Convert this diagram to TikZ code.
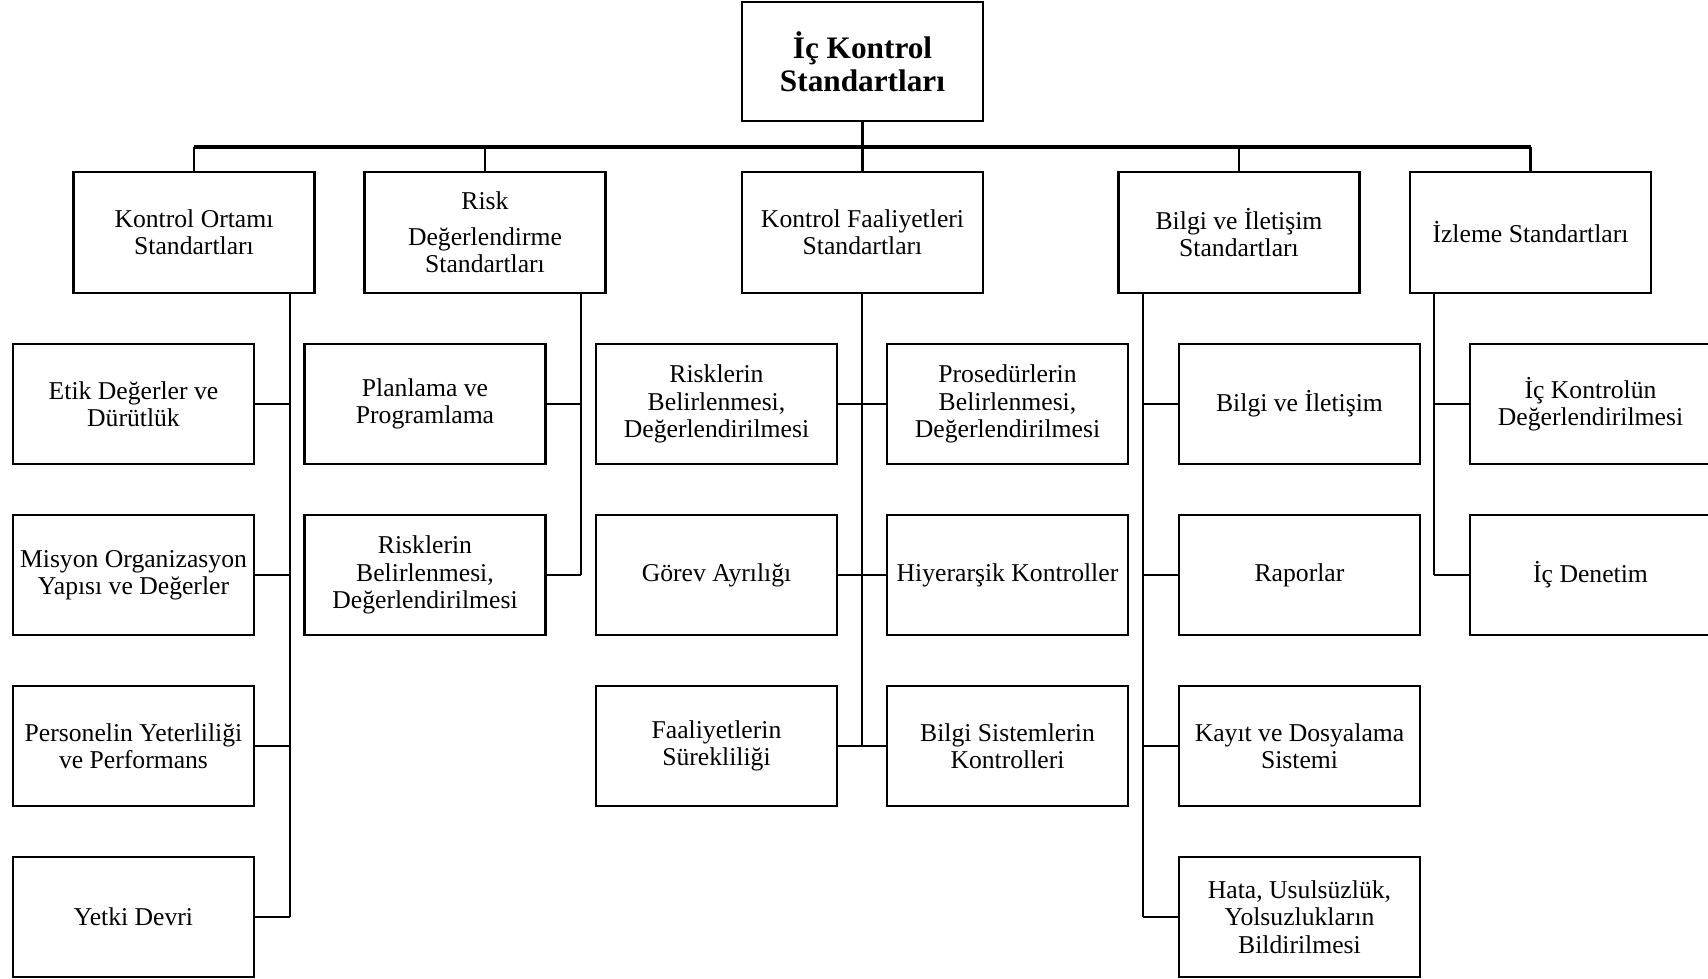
\documentclass[tikz,border=0pt]{standalone}
\usepackage{fontspec}
\setmainfont{Liberation Serif}
\usetikzlibrary{positioning}
\tikzset{
  box/.style={
    draw=black,
    line width=0.65pt,
    minimum width=2.41cm,
    minimum height=1.20cm,
    inner sep=1pt,
    align=center,
    font=\fontsize{7.3}{7.75}\selectfont
  },
  head/.style={
    box,
    minimum height=1.21cm
  },
  top/.style={
    box,
    minimum height=1.19cm,
    font=\bfseries\fontsize{8.9}{9.3}\selectfont
  },
  link/.style={
    draw=black,
    line width=0.65pt
  },
  bus/.style={
    draw=black,
    line width=0.9pt
  }
}

\begin{document}
\begin{tikzpicture}[x=1cm,y=1cm]
  \useasboundingbox (0,0) rectangle (17.08,9.79);

  % Root
  \node[top] (root) at (8.625,9.175) {İç Kontrol\\Standartları};

  % Standard groups
  \node[head] (ko) at (1.94,7.465) {Kontrol Ortamı\\Standartları};
  \node[head] (rd) at (4.85,7.465) {Risk\\[0.09cm]Değerlendirme\\Standartları};
  \node[head] (kf) at (8.625,7.465) {Kontrol Faaliyetleri\\Standartları};
  \node[head] (bi) at (12.39,7.465) {Bilgi ve İletişim\\Standartları};
  \node[head] (iz) at (15.305,7.465) {İzleme Standartları};

  % Bus from root to groups
  \coordinate (bus) at (0,8.32);
  \draw[link] (root.south) -- (root.south |- bus);
  \draw[bus] (ko.north |- bus) -- (iz.north |- bus);
  \foreach \g in {ko,rd,kf,bi,iz} {
    \draw[link] (\g.north) -- (\g.north |- bus);
  }

  % Kontrol Ortamı column
  \node[box] (etik) at (1.335,5.75) {Etik Değerler ve\\Dürütlük};
  \node[box] (misyon) at (1.335,4.04) {Misyon Organizasyon\\Yapısı ve Değerler};
  \node[box] (personel) at (1.335,2.33) {Personelin Yeterliliği\\ve Performans};
  \node[box] (yetki) at (1.335,0.62) {Yetki Devri};
  \coordinate (spA) at (2.90,0);
  \draw[link] (ko.south -| spA) -- (yetki.east -| spA);
  \foreach \n in {etik,misyon,personel,yetki} {
    \draw[link] (\n.east) -- (\n.east -| spA);
  }

  % Risk Değerlendirme column
  \node[box] (planlama) at (4.25,5.75) {Planlama ve\\Programlama};
  \node[box] (riskb) at (4.25,4.04) {Risklerin\\Belirlenmesi,\\Değerlendirilmesi};
  \coordinate (spB) at (5.81,0);
  \draw[link] (rd.south -| spB) -- (riskb.east -| spB);
  \foreach \n in {planlama,riskb} {
    \draw[link] (\n.east) -- (\n.east -| spB);
  }

  % Kontrol Faaliyetleri columns
  \node[box] (riskc) at (7.165,5.75) {Risklerin\\Belirlenmesi,\\Değerlendirilmesi};
  \node[box] (gorev) at (7.165,4.04) {Görev Ayrılığı};
  \node[box] (surek) at (7.165,2.33) {Faaliyetlerin\\Sürekliliği};
  \node[box] (prosed) at (10.075,5.75) {Prosedürlerin\\Belirlenmesi,\\Değerlendirilmesi};
  \node[box] (hiyer) at (10.075,4.04) {Hiyerarşik Kontroller};
  \node[box] (bsis) at (10.075,2.33) {Bilgi Sistemlerin\\Kontrolleri};
  \coordinate (spC) at (8.62,0);
  \draw[link] (kf.south -| spC) -- (surek.east -| spC);
  \foreach \n in {riskc,gorev,surek} {
    \draw[link] (\n.east) -- (\n.east -| spC);
  }
  \foreach \n in {prosed,hiyer,bsis} {
    \draw[link] (\n.west) -- (\n.west -| spC);
  }

  % Bilgi ve İletişim column
  \node[box] (bilgi) at (12.995,5.75) {Bilgi ve İletişim};
  \node[box] (rapor) at (12.995,4.04) {Raporlar};
  \node[box] (kayit) at (12.995,2.33) {Kayıt ve Dosyalama\\Sistemi};
  \node[box] (hata) at (12.995,0.62) {Hata, Usulsüzlük,\\Yolsuzlukların\\Bildirilmesi};
  \coordinate (spD) at (11.43,0);
  \draw[link] (bi.south -| spD) -- (hata.west -| spD);
  \foreach \n in {bilgi,rapor,kayit,hata} {
    \draw[link] (\n.west) -- (\n.west -| spD);
  }

  % İzleme column
  \node[box] (ickon) at (15.905,5.75) {İç Kontrolün\\Değerlendirilmesi};
  \node[box] (icden) at (15.905,4.04) {İç Denetim};
  \coordinate (spE) at (14.34,0);
  \draw[link] (iz.south -| spE) -- (icden.west -| spE);
  \foreach \n in {ickon,icden} {
    \draw[link] (\n.west) -- (\n.west -| spE);
  }
\end{tikzpicture}
\end{document}
